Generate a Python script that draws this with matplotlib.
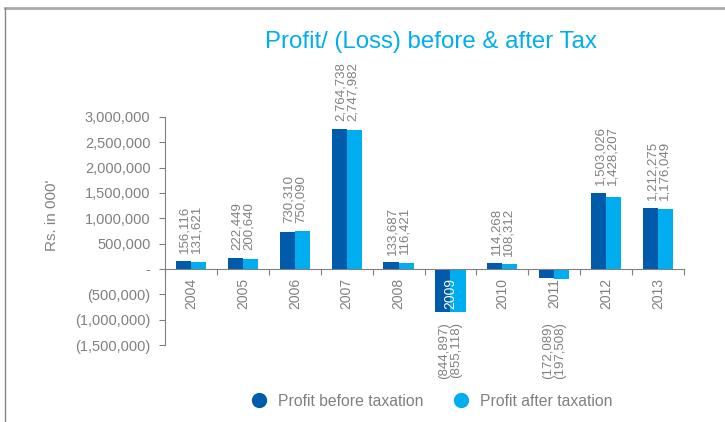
import matplotlib
matplotlib.use("Agg")
import matplotlib.pyplot as plt
from matplotlib.lines import Line2D
import numpy as np

years = ["2004", "2005", "2006", "2007", "2008", "2009", "2010", "2011", "2012", "2013"]
before_tax = [156116, 222449, 730310, 2764738, 133687, -844897, 114268, -172089, 1503026, 1212275]
after_tax = [131621, 200640, 750090, 2747982, 116421, -855118, 108312, -197508, 1428207, 1176049]
yticks = [-1500000, -1000000, -500000, 0, 500000, 1000000, 1500000, 2000000, 2500000, 3000000]

DARK = "#005BAA"
LIGHT = "#00AEEF"
GRAY = "#808080"

plt.rcParams['font.family'] = ['Liberation Sans', 'DejaVu Sans']

def fmt(v):
    if v == 0:
        return "-"
    s = f"{abs(v):,}"
    return f"({s})" if v < 0 else s

fig = plt.figure(figsize=(7.25, 4.22), dpi=100)
ax = fig.add_axes([165/725, 1-345/422, (684-165)/725, (345-117)/422])

x = np.arange(len(years))
w = 0.29
ax.bar(x - w/2, before_tax, width=w, color=DARK, label="Profit before taxation", zorder=2)
ax.bar(x + w/2, after_tax, width=w, color=LIGHT, label="Profit after taxation", zorder=2)

ax.set_xlim(-0.5, len(years) - 0.5)
ax.set_ylim(-1500000, 3000000)
ax.set_yticks(yticks)
ax.set_yticklabels([fmt(v) for v in yticks], color=GRAY, fontsize=10.5)
ax.tick_params(axis='y', direction='out', length=4, color=GRAY, width=0.8, pad=6.5)

ax.set_xticks(np.arange(-0.5, len(years) + 0.5, 1.0))
ax.set_xticklabels([])
ax.tick_params(axis='x', direction='out', length=4, color=GRAY, width=0.8)

for s in ['top', 'right']:
    ax.spines[s].set_visible(False)
ax.spines['left'].set_color(GRAY)
ax.spines['left'].set_linewidth(0.8)
ax.spines['bottom'].set_position(('data', 0))
ax.spines['bottom'].set_color(GRAY)
ax.spines['bottom'].set_linewidth(0.8)

for i, yr in enumerate(years):
    col = "white" if before_tax[i] < -500000 else GRAY
    ax.annotate(yr, (i, 0), xytext=(0, -6.5), textcoords='offset points',
                rotation=90, ha='center', va='top', fontsize=10, color=col, zorder=5)
    b, a = before_tax[i], after_tax[i]
    txt = fmt(b) + "\n" + fmt(a)
    if b >= 0:
        top = max(a, b)
        ax.annotate(txt, (i, top), xytext=(0, 5.5), textcoords='offset points',
                    rotation=90, ha='center', va='bottom', fontsize=9.5,
                    color=GRAY, linespacing=1.0)
    else:
        ax.annotate(txt, (i, 0), xytext=(0, -38), textcoords='offset points',
                    rotation=90, ha='center', va='top', fontsize=9.5,
                    color=GRAY, linespacing=1.0)

ax.set_ylabel("Rs. in 000'", color=GRAY, fontsize=11)
ax.yaxis.set_label_coords((59-165)/519, (345-215)/228, transform=ax.transAxes)

fig.text(431/725, 1-42/422, "Profit/ (Loss) before & after Tax", color=LIGHT,
         fontsize=17.3, ha='center', va='center')

handles = [Line2D([0], [0], marker='o', linestyle='', markersize=10, color=DARK),
           Line2D([0], [0], marker='o', linestyle='', markersize=10, color=LIGHT)]
fig.legend(handles, ["Profit before taxation", "Profit after taxation"],
           loc='center', bbox_to_anchor=(430/725, 1-401/422), ncol=2, frameon=False,
           fontsize=11.3, labelcolor=GRAY, handletextpad=0.5, columnspacing=1.6,
           handlelength=1.5)

fig.add_artist(Line2D([5/725, 1], [1-8/422, 1-8/422], color="#aaaaaa", linewidth=2,
                      transform=fig.transFigure))
fig.add_artist(Line2D([5/725, 5/725], [1-8/422, 0], color="#888888", linewidth=1,
                      transform=fig.transFigure))

fig.savefig("out.png", dpi=100)
